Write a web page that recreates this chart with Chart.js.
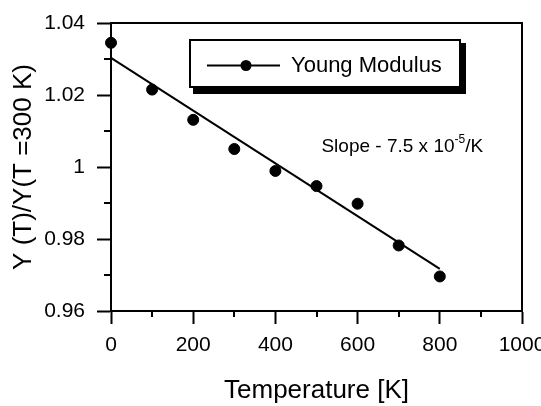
<!DOCTYPE html>
<html>
<head>
<meta charset="utf-8">
<title>Young Modulus vs Temperature</title>
<script src="https://cdn.jsdelivr.net/npm/chart.js@4.4.1/dist/chart.umd.min.js"></script>
<style>
  html, body { margin: 0; padding: 0; background: #fff; }
  canvas { display: block; }
</style>
</head>
<body>
<canvas id="modulusChart" width="541" height="406"></canvas>
<script>
// Data
const temperatures = [0, 100, 200, 300, 400, 500, 600, 700, 800];
const youngRatio = [1.0345, 1.0215, 1.0131, 1.0050, 0.9989, 0.9947, 0.9898, 0.9782, 0.9696];
const fitTemps = [0, 800];
const fitRatio = [1.0303, 0.9717];
const xTicks = [0, 200, 400, 600, 800, 1000];
const yTicks = [0.96, 0.98, 1.00, 1.02, 1.04];
const seriesLabel = 'Young Modulus';
const slopeNote = { text: 'Slope - 7.5 x 10', sup: '-5', tail: '/K', x: 512, y: 1.0042 };

const FONT = "'Liberation Sans', Arial, sans-serif";

// Minor ticks halfway between the major ones, top/right frame, note and legend
const framePlugin = {
    id: 'frame',
    afterDraw(chart) {
        const ctx = chart.ctx;
        const area = chart.chartArea;
        const xs = chart.scales.x;
        const ys = chart.scales.y;
        ctx.save();
        ctx.strokeStyle = '#000';
        ctx.lineWidth = 2;
        ctx.beginPath();
        ctx.moveTo(area.left, area.top);
        ctx.lineTo(area.right, area.top);
        ctx.lineTo(area.right, area.bottom);
        ctx.stroke();

        ctx.beginPath();
        for (let i = 0; i < xTicks.length - 1; i++) {
            const px = Math.round(xs.getPixelForValue((xTicks[i] + xTicks[i + 1]) / 2));
            ctx.moveTo(px, area.bottom);
            ctx.lineTo(px, area.bottom + 6);
        }
        for (let i = 0; i < yTicks.length - 1; i++) {
            const py = Math.round(ys.getPixelForValue((yTicks[i] + yTicks[i + 1]) / 2));
            ctx.moveTo(area.left, py);
            ctx.lineTo(area.left - 7, py);
        }
        ctx.stroke();

        // Slope note
        ctx.fillStyle = '#000';
        ctx.textBaseline = 'alphabetic';
        ctx.textAlign = 'left';
        let tx = xs.getPixelForValue(slopeNote.x);
        const ty = ys.getPixelForValue(slopeNote.y);
        ctx.font = '19px ' + FONT;
        ctx.fillText(slopeNote.text, tx, ty);
        tx += ctx.measureText(slopeNote.text).width;
        ctx.font = '12px ' + FONT;
        ctx.fillText(slopeNote.sup, tx, ty - 9);
        tx += ctx.measureText(slopeNote.sup).width;
        ctx.font = '19px ' + FONT;
        ctx.fillText(slopeNote.tail, tx, ty);

        // Legend box with drop shadow
        const bx = area.left + 79, by = area.top + 17, bw = 270, bh = 47;
        ctx.fillStyle = '#000';
        ctx.fillRect(bx + 3, by + 3, bw + 3, bh + 4);
        ctx.fillStyle = '#fff';
        ctx.fillRect(bx, by, bw, bh);
        ctx.strokeStyle = '#000';
        ctx.lineWidth = 2;
        ctx.strokeRect(bx, by, bw, bh);

        ctx.fillStyle = '#000';
        const ly = by + bh / 2 + 2;
        ctx.beginPath();
        ctx.moveTo(bx + 17, ly);
        ctx.lineTo(bx + 90, ly);
        ctx.stroke();
        ctx.beginPath();
        ctx.arc(bx + 56, ly, 5.5, 0, Math.PI * 2);
        ctx.fill();
        ctx.font = '22px ' + FONT;
        ctx.textBaseline = 'middle';
        ctx.fillText(seriesLabel, bx + 101, ly);
        ctx.restore();
    }
};

const ctx = document.getElementById('modulusChart').getContext('2d');
new Chart(ctx, {
    type: 'scatter',
    data: {
        datasets: [{
            label: seriesLabel,
            data: temperatures.map((t, i) => ({ x: t, y: youngRatio[i] })),
            backgroundColor: '#000',
            borderColor: '#000',
            pointRadius: 5.5,
            pointHoverRadius: 5.5,
            clip: false
        }, {
            label: 'Linear fit',
            data: fitTemps.map((t, i) => ({ x: t, y: fitRatio[i] })),
            showLine: true,
            borderColor: '#000',
            borderWidth: 2,
            pointRadius: 0,
            clip: false
        }]
    },
    options: {
        responsive: false,
        animation: false,
        layout: { padding: { top: 23, right: 19, left: 0, bottom: 0 } },
        plugins: {
            legend: { display: false },
            tooltip: { enabled: false }
        },
        scales: {
            x: {
                type: 'linear',
                min: 0,
                max: 1000,
                afterBuildTicks: scale => { scale.ticks = xTicks.map(v => ({ value: v })); },
                afterFit: scale => {
                    scale.height = 95;
                    scale.paddingLeft = 0;
                    scale.paddingRight = 0;
                },
                grid: { drawOnChartArea: false, drawTicks: true, tickLength: 13, tickWidth: 2, tickColor: '#000' },
                border: { display: true, color: '#000', width: 2 },
                ticks: {
                    color: '#000',
                    padding: 9,
                    maxRotation: 0,
                    font: { family: FONT, size: 21 },
                    callback: v => String(v)
                },
                title: {
                    display: true,
                    text: 'Temperature [K]',
                    color: '#000',
                    font: { family: FONT, size: 26 },
                    padding: { top: 0, bottom: 0 }
                }
            },
            y: {
                type: 'linear',
                min: 0.96,
                max: 1.04,
                afterBuildTicks: scale => { scale.ticks = yTicks.map(v => ({ value: v })); },
                afterFit: scale => {
                    scale.width = 111;
                    scale.paddingTop = 0;
                    scale.paddingBottom = 0;
                },
                grid: { drawOnChartArea: false, drawTicks: true, tickLength: 14, tickWidth: 2, tickColor: '#000' },
                border: { display: true, color: '#000', width: 2 },
                ticks: {
                    color: '#000',
                    padding: 12,
                    font: { family: FONT, size: 21 },
                    callback: v => String(+v.toFixed(2))
                },
                title: {
                    display: true,
                    text: 'Y (T)/Y(T =300 K)',
                    color: '#000',
                    font: { family: FONT, size: 26 },
                    padding: { top: 8, bottom: 0 }
                }
            }
        }
    },
    plugins: [framePlugin]
});
</script>
</body>
</html>
